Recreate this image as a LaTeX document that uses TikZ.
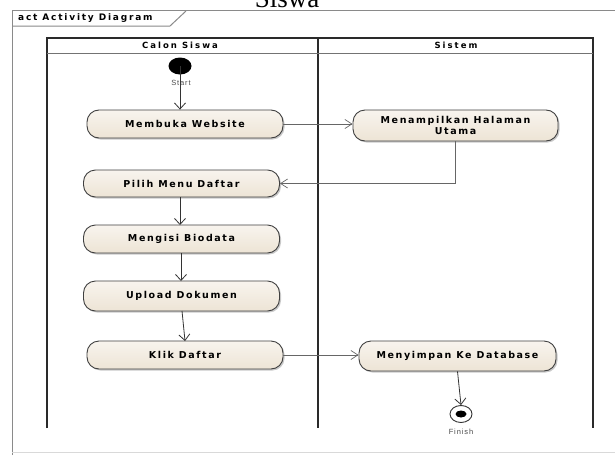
\documentclass[tikz,border=0pt]{standalone}
\usepackage{fontspec}
\setmainfont{Liberation Sans}
\newfontfamily\capfont{Liberation Serif}
\newfontfamily\boldwide{DejaVu Sans}
\usetikzlibrary{arrows.meta,shadows,calc,shapes.geometric}
\definecolor{actfill}{HTML}{EDE4D5}
\definecolor{actlight}{HTML}{F8F4EE}
\definecolor{frameline}{HTML}{8A8A8A}
\definecolor{laneline}{HTML}{2A2A2A}
\tikzset{
  action/.style={draw=black!75, line width=0.9pt, rounded corners=12pt,
    top color=actlight, bottom color=actfill, minimum height=28pt,
    minimum width=196pt, inner sep=1pt, align=center,
    font=\boldwide\fontsize{9.5}{11.5}\selectfont\bfseries\addfontfeature{LetterSpace=17},
    drop shadow={shadow xshift=1.5pt, shadow yshift=-1.5pt, fill=black!35, opacity=0.6}},
  flow/.style={draw=black!80, line width=0.8pt, -{Straight Barb[length=6pt,width=11pt]}},
  hflow/.style={draw=black!60, line width=0.7pt, -{Straight Barb[length=7pt,width=9pt]}},
  lane/.style={draw=laneline, line width=1.1pt},
  lanehead/.style={font=\boldwide\fontsize{8.5}{10}\selectfont\bfseries\addfontfeature{LetterSpace=24}},
  small/.style={font=\fontsize{7.5}{8}\selectfont\addfontfeature{LetterSpace=12}, text=black!70},
}
\begin{document}
\begin{tikzpicture}[x=1pt,y=-1pt]
\useasboundingbox (0,0) rectangle (615,455);
\fill[white] (0,0) rectangle (615,455);

% caption text above the frame
\node[anchor=base, font=\capfont\fontsize{27}{28}\selectfont, inner sep=0] (captail) at (287,7) {Siswa};

% outer diagram frame and its name tab
\draw[frameline, line width=1pt] (12,455) -- (12,10) -- (615,10);
\draw[black!15, line width=0.8pt] (12,452) -- (615,452);
\draw[frameline, line width=1pt] (12,26) -- (170,26) -- (186,11);
\node[anchor=west, font=\boldwide\fontsize{9}{10}\selectfont\bfseries\addfontfeature{LetterSpace=20}, inner sep=0] (frametitle) at (18,18) {act Activity Diagram};

% swimlanes
\draw[lane] (47,428) -- (47,38) -- (593,38) -- (593,428);
\draw[lane] (318,38) -- (318,428);
\draw[black!55, line width=1pt] (47,53) -- (593,53);
\node[lanehead] (laneA) at (180,45.5) {Calon Siswa};
\node[lanehead] (laneB) at (456,45.5) {Sistem};

% start node
\node[fill=black, ellipse, minimum width=23pt, minimum height=17pt, inner sep=0] (start) at (180,66) {};
\node[small] (startlbl) at (181,83) {Start};

% actions
\node[action] (membuka) at (185,124) {Membuka Website};
\node[action, minimum height=31pt, minimum width=205pt] (menampilkan) at (455.5,125.5) {Menampilkan Halaman\\Utama};
\node[action, minimum height=27pt] (pilih) at (181.5,183.5) {Pilih Menu Daftar};
\node[action] (mengisi) at (181.5,239) {Mengisi Biodata};
\node[action, minimum height=30pt] (upload) at (181.5,296) {Upload Dokumen};
\node[action] (klik) at (185,355) {Klik Daftar};
\node[action, minimum height=30pt, minimum width=197pt] (menyimpan) at (457.5,356) {Menyimpan Ke Database};

% final node
\node[draw=black!80, line width=0.9pt, ellipse, minimum width=22pt, minimum height=17pt, inner sep=0, fill=white] (finish) at (461,414) {};
\node[fill=black, ellipse, minimum width=11pt, minimum height=7pt, inner sep=0] (finishdot) at (finish.center) {};
\node[small] (finishlbl) at (461,431.5) {Finish};

% control flows
\draw[flow] (start.center) -- (start |- membuka.north);
\draw[hflow] (membuka.east) -- (menampilkan.west |- membuka.east);
\draw[hflow] (menampilkan.south) |- (pilih.east);
\draw[flow] (180,197) -- (180,225);
\draw[flow] (181,253) -- (181,281);
\draw[flow] (182,311) -- (185,341);
\draw[hflow] (klik.east) -- (menyimpan.west |- klik.east);
\draw[flow] (menyimpan.south) -- (finish.north);
\end{tikzpicture}
\end{document}
